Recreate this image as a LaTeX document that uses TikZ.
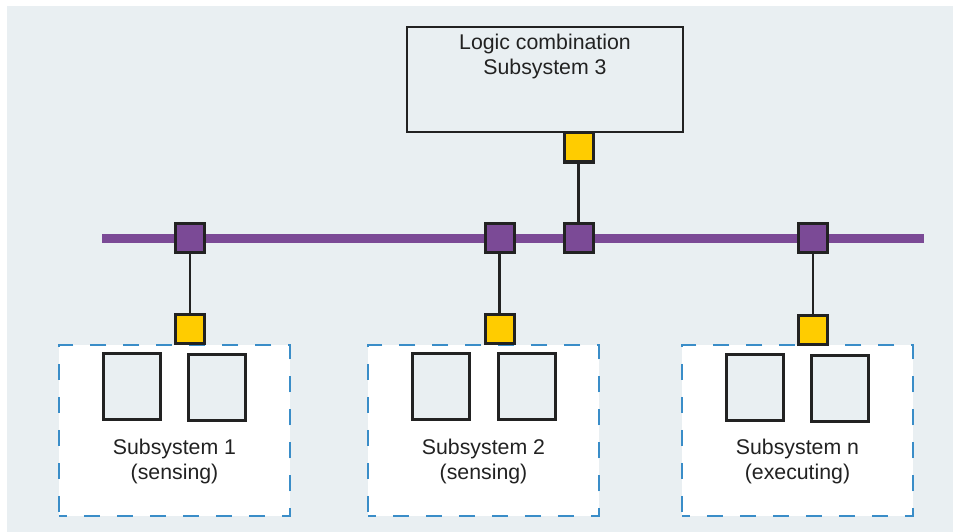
\documentclass[tikz,border=0pt]{standalone}
\usepackage{fontspec}
\setmainfont{Liberation Sans}
\definecolor{bgc}{HTML}{E9EFF2}
\definecolor{busc}{HTML}{7B4A96}
\definecolor{yelc}{HTML}{FFCC00}
\definecolor{dashc}{HTML}{3A8DC8}
\definecolor{edgec}{HTML}{222222}
\tikzset{
  lbl/.style={font=\fontsize{21.3}{24.5}\selectfont, text=edgec, align=center, inner sep=0pt},
  portp/.style={draw=edgec, line width=3pt, fill=busc, minimum size=29pt, inner sep=0pt, outer sep=0pt},
  porty/.style={draw=edgec, line width=3pt, fill=yelc, minimum size=29pt, inner sep=0pt, outer sep=0pt},
  unitbox/.style={draw=edgec, line width=3pt, fill=bgc, minimum width=57pt, minimum height=66pt, inner sep=0pt, outer sep=0pt},
  subbox/.style={draw=dashc, line width=1.4pt, dash pattern=on 16.5pt off 16.5pt, dash phase=8.25pt, fill=white, minimum width=231pt, minimum height=171pt, inner sep=0pt},
  logicbox/.style={draw=edgec, line width=1.3pt, fill=bgc, minimum width=276pt, minimum height=105pt, inner sep=0pt, outer sep=0pt},
  wire/.style={draw=edgec, line width=2.6pt},
  busline/.style={draw=busc, line width=8.5pt}
}
\begin{document}
\begin{tikzpicture}[x=1pt,y=-1pt]
\useasboundingbox (0,0) rectangle (953,532);
\fill[bgc] (7,6) rectangle (953,532);
% logic box
\node[logicbox] (logic) at (545,79.5) {};
\node[lbl] (logictxt) at (545,56.5) {Logic combination\\Subsystem 3};
% bus
\coordinate (busL) at (102,238.5);
\coordinate (busR) at (924,238.5);
\draw[busline] (busL) -- (busR);
% subsystem boxes
\node[subbox] (sub1) at (174.5,430.5) {};
\node[subbox] (sub2) at (483.5,430.5) {};
\node[subbox] (subn) at (797.5,430.5) {};
% inner units
\node[unitbox] (u1a) at (132,386.5) {};
\node[unitbox] (u1b) at (217,387.5) {};
\node[unitbox] (u2a) at (441,386.5) {};
\node[unitbox] (u2b) at (526.5,386.5) {};
\node[unitbox] (una) at (755,387) {};
\node[unitbox] (unb) at (840,388.5) {};
% labels
\node[lbl] (t1) at (174.5,461.5) {Subsystem 1\\(sensing)};
\node[lbl] (t2) at (483.5,461.5) {Subsystem 2\\(sensing)};
\node[lbl] (tn) at (797.5,461.5) {Subsystem n\\(executing)};
% ports
\node[portp] (p1) at (190,238) {};
\node[portp] (p2) at (499.5,238) {};
\node[portp] (p3) at (578.5,238) {};
\node[portp] (p4) at (813,238) {};
\node[porty] (y1) at (190,329) {};
\node[porty] (y2) at (499.5,329) {};
\node[porty] (yn) at (813,330) {};
\node[porty] (y3) at (578.5,147.5) {};
% wires
\draw[wire] (p1) -- (y1);
\draw[wire] (p2) -- (y2);
\draw[wire] (p4) -- (yn);
\draw[wire] (y3) -- (p3);
\end{tikzpicture}
\end{document}
